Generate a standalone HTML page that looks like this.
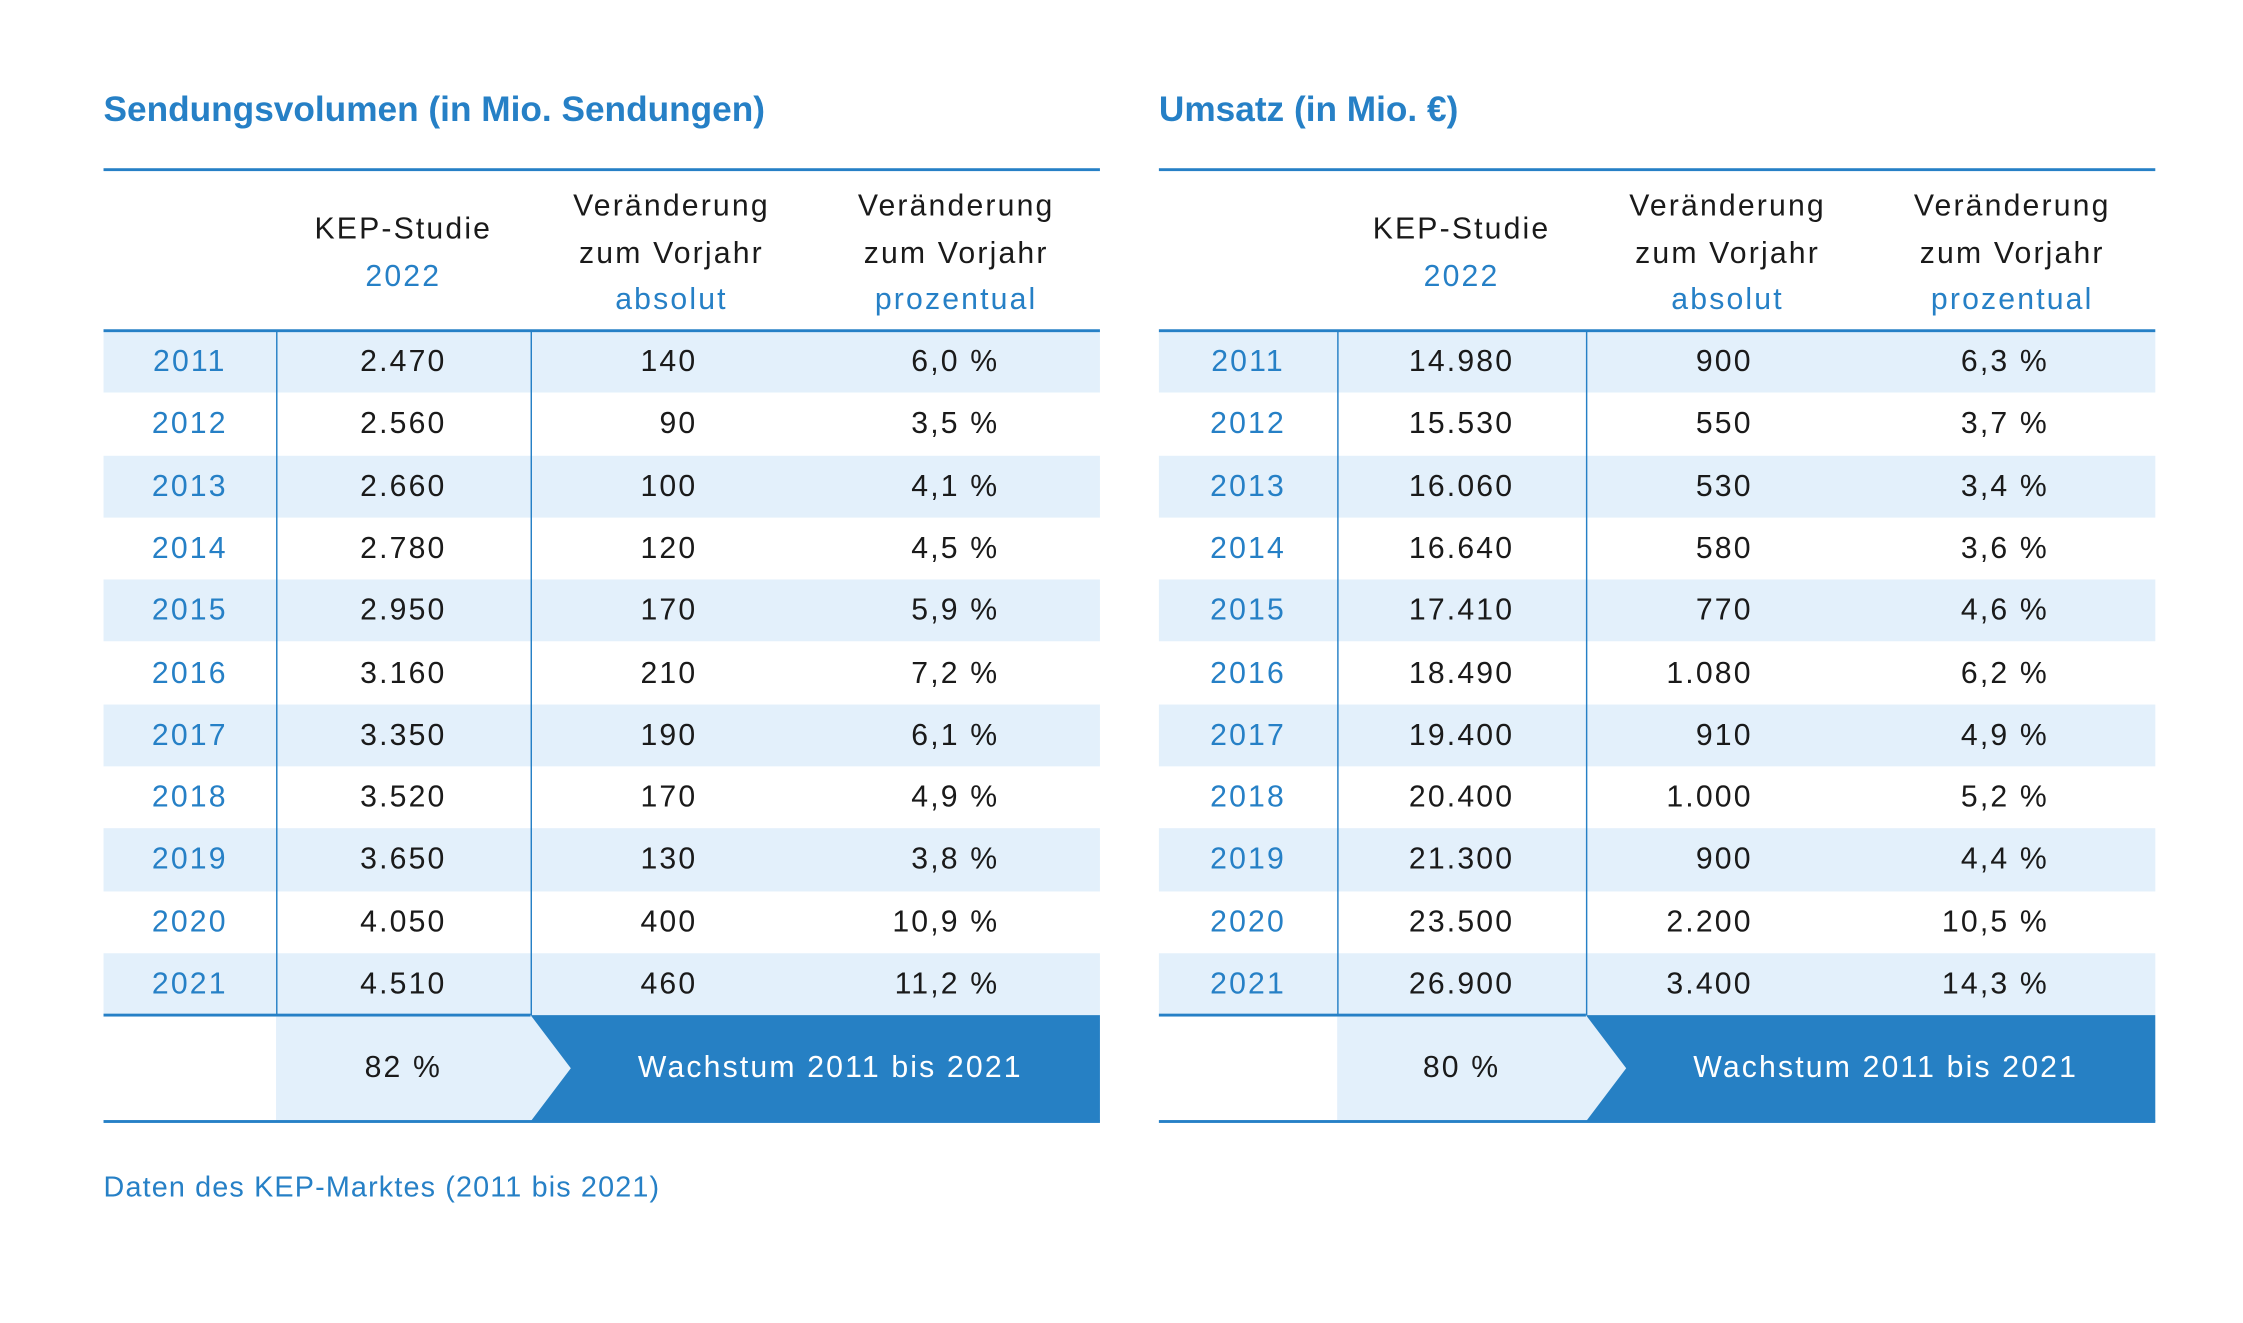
<!DOCTYPE html>
<html><head><meta charset="utf-8"><style>
*{margin:0;padding:0;box-sizing:border-box}
html,body{width:2243px;height:1322px;overflow:hidden;background:#fff}
#s{position:absolute;left:0;top:0;width:1560px;height:920px;transform:scale(1.43782);transform-origin:0 0;font-family:"Liberation Sans",sans-serif;color:#1a1a1a}
.t{position:absolute;font-weight:bold;font-size:24.5px;color:#2680c6;top:63px}
.ln{position:absolute;height:2px;background:#2680c6}
.h{position:absolute;top:128px;font-size:21px;letter-spacing:1.5px;line-height:32.5px;text-align:center}
.b{color:#2680c6}
.r{position:absolute;height:43.3px;line-height:43.3px;font-size:21px;letter-spacing:1.5px}
.r.s{background:#e3f0fb}
.r span{position:absolute;top:0}
.y{color:#2680c6;text-align:center}
.c{text-align:center}
.rt{text-align:right}
.v{position:absolute;width:1.5px;background:#2680c6;top:230px;height:476px}
.ft{position:absolute;left:72px;top:815px;font-size:20px;color:#2680c6;letter-spacing:0.8px}
.bt{position:absolute;font-size:21px;letter-spacing:1.5px;line-height:74px;top:706px;text-align:center}
</style></head><body><div id="s">

<div class="t" style="left:72px">Sendungsvolumen (in Mio. Sendungen)</div>
<div class="t" style="left:806px">Umsatz (in Mio. €)</div>

<div class="ln" style="left:72px;width:693px;top:117px;height:1.5px"></div>
<div class="ln" style="left:806px;width:693px;top:117px;height:1.5px"></div>

<div class="h" style="left:192px;width:177px;top:144px">KEP-Studie<br><span class="b">2022</span></div>
<div class="h" style="left:369px;width:196px">Veränderung<br>zum Vorjahr<br><span class="b">absolut</span></div>
<div class="h" style="left:565px;width:200px">Veränderung<br>zum Vorjahr<br><span class="b">prozentual</span></div>
<div class="h" style="left:930px;width:173px;top:144px">KEP-Studie<br><span class="b">2022</span></div>
<div class="h" style="left:1103px;width:197px">Veränderung<br>zum Vorjahr<br><span class="b">absolut</span></div>
<div class="h" style="left:1300px;width:199px">Veränderung<br>zum Vorjahr<br><span class="b">prozentual</span></div>

<div style="position:absolute;left:72px;top:230px;width:693px">
<div class="r s" style="top:0;width:693px"><span class="y" style="left:0;width:120px">2011</span><span class="c" style="left:120px;width:177px">2.470</span><span class="rt" style="left:297px;width:116px">140</span><span class="rt" style="left:493px;width:130px">6,0 %</span></div>
<div class="r" style="top:43.3px;width:693px"><span class="y" style="left:0;width:120px">2012</span><span class="c" style="left:120px;width:177px">2.560</span><span class="rt" style="left:297px;width:116px">90</span><span class="rt" style="left:493px;width:130px">3,5 %</span></div>
<div class="r s" style="top:86.6px;width:693px"><span class="y" style="left:0;width:120px">2013</span><span class="c" style="left:120px;width:177px">2.660</span><span class="rt" style="left:297px;width:116px">100</span><span class="rt" style="left:493px;width:130px">4,1 %</span></div>
<div class="r" style="top:129.9px;width:693px"><span class="y" style="left:0;width:120px">2014</span><span class="c" style="left:120px;width:177px">2.780</span><span class="rt" style="left:297px;width:116px">120</span><span class="rt" style="left:493px;width:130px">4,5 %</span></div>
<div class="r s" style="top:173.2px;width:693px"><span class="y" style="left:0;width:120px">2015</span><span class="c" style="left:120px;width:177px">2.950</span><span class="rt" style="left:297px;width:116px">170</span><span class="rt" style="left:493px;width:130px">5,9 %</span></div>
<div class="r" style="top:216.5px;width:693px"><span class="y" style="left:0;width:120px">2016</span><span class="c" style="left:120px;width:177px">3.160</span><span class="rt" style="left:297px;width:116px">210</span><span class="rt" style="left:493px;width:130px">7,2 %</span></div>
<div class="r s" style="top:259.8px;width:693px"><span class="y" style="left:0;width:120px">2017</span><span class="c" style="left:120px;width:177px">3.350</span><span class="rt" style="left:297px;width:116px">190</span><span class="rt" style="left:493px;width:130px">6,1 %</span></div>
<div class="r" style="top:303.1px;width:693px"><span class="y" style="left:0;width:120px">2018</span><span class="c" style="left:120px;width:177px">3.520</span><span class="rt" style="left:297px;width:116px">170</span><span class="rt" style="left:493px;width:130px">4,9 %</span></div>
<div class="r s" style="top:346.4px;width:693px"><span class="y" style="left:0;width:120px">2019</span><span class="c" style="left:120px;width:177px">3.650</span><span class="rt" style="left:297px;width:116px">130</span><span class="rt" style="left:493px;width:130px">3,8 %</span></div>
<div class="r" style="top:389.7px;width:693px"><span class="y" style="left:0;width:120px">2020</span><span class="c" style="left:120px;width:177px">4.050</span><span class="rt" style="left:297px;width:116px">400</span><span class="rt" style="left:493px;width:130px">10,9 %</span></div>
<div class="r s" style="top:433px;width:693px"><span class="y" style="left:0;width:120px">2021</span><span class="c" style="left:120px;width:177px">4.510</span><span class="rt" style="left:297px;width:116px">460</span><span class="rt" style="left:493px;width:130px">11,2 %</span></div>
</div>

<div style="position:absolute;left:806px;top:230px;width:693px">
<div class="r s" style="top:0;width:693px"><span class="y" style="left:0;width:124px">2011</span><span class="c" style="left:124px;width:173px">14.980</span><span class="rt" style="left:297px;width:116px">900</span><span class="rt" style="left:494px;width:125px">6,3 %</span></div>
<div class="r" style="top:43.3px;width:693px"><span class="y" style="left:0;width:124px">2012</span><span class="c" style="left:124px;width:173px">15.530</span><span class="rt" style="left:297px;width:116px">550</span><span class="rt" style="left:494px;width:125px">3,7 %</span></div>
<div class="r s" style="top:86.6px;width:693px"><span class="y" style="left:0;width:124px">2013</span><span class="c" style="left:124px;width:173px">16.060</span><span class="rt" style="left:297px;width:116px">530</span><span class="rt" style="left:494px;width:125px">3,4 %</span></div>
<div class="r" style="top:129.9px;width:693px"><span class="y" style="left:0;width:124px">2014</span><span class="c" style="left:124px;width:173px">16.640</span><span class="rt" style="left:297px;width:116px">580</span><span class="rt" style="left:494px;width:125px">3,6 %</span></div>
<div class="r s" style="top:173.2px;width:693px"><span class="y" style="left:0;width:124px">2015</span><span class="c" style="left:124px;width:173px">17.410</span><span class="rt" style="left:297px;width:116px">770</span><span class="rt" style="left:494px;width:125px">4,6 %</span></div>
<div class="r" style="top:216.5px;width:693px"><span class="y" style="left:0;width:124px">2016</span><span class="c" style="left:124px;width:173px">18.490</span><span class="rt" style="left:297px;width:116px">1.080</span><span class="rt" style="left:494px;width:125px">6,2 %</span></div>
<div class="r s" style="top:259.8px;width:693px"><span class="y" style="left:0;width:124px">2017</span><span class="c" style="left:124px;width:173px">19.400</span><span class="rt" style="left:297px;width:116px">910</span><span class="rt" style="left:494px;width:125px">4,9 %</span></div>
<div class="r" style="top:303.1px;width:693px"><span class="y" style="left:0;width:124px">2018</span><span class="c" style="left:124px;width:173px">20.400</span><span class="rt" style="left:297px;width:116px">1.000</span><span class="rt" style="left:494px;width:125px">5,2 %</span></div>
<div class="r s" style="top:346.4px;width:693px"><span class="y" style="left:0;width:124px">2019</span><span class="c" style="left:124px;width:173px">21.300</span><span class="rt" style="left:297px;width:116px">900</span><span class="rt" style="left:494px;width:125px">4,4 %</span></div>
<div class="r" style="top:389.7px;width:693px"><span class="y" style="left:0;width:124px">2020</span><span class="c" style="left:124px;width:173px">23.500</span><span class="rt" style="left:297px;width:116px">2.200</span><span class="rt" style="left:494px;width:125px">10,5 %</span></div>
<div class="r s" style="top:433px;width:693px"><span class="y" style="left:0;width:124px">2021</span><span class="c" style="left:124px;width:173px">26.900</span><span class="rt" style="left:297px;width:116px">3.400</span><span class="rt" style="left:494px;width:125px">14,3 %</span></div>
</div>

<div class="ln" style="left:72px;width:693px;top:229px"></div>
<div class="ln" style="left:806px;width:693px;top:229px"></div>
<div class="v" style="left:191.5px"></div>
<div class="v" style="left:368.5px"></div>
<div class="v" style="left:929.5px"></div>
<div class="v" style="left:1102.5px"></div>

<svg style="position:absolute;left:0;top:0" width="1560" height="920">
<polygon points="192,706 369,706 397,743 369,780 192,780" fill="#e3f0fb"/>
<polygon points="369,706 765,706 765,780 369,780 397,743" fill="#2680c4"/>
<polygon points="930,706 1103,706 1131,743 1103,780 930,780" fill="#e3f0fb"/>
<polygon points="1103,706 1499,706 1499,780 1103,780 1131,743" fill="#2680c4"/>
<rect x="72" y="705" width="297" height="2" fill="#2680c6"/>
<rect x="806" y="705" width="297" height="2" fill="#2680c6"/>
<rect x="72" y="779" width="693" height="2" fill="#2680c6"/>
<rect x="806" y="779" width="693" height="2" fill="#2680c6"/>
</svg>
<div class="bt" style="left:192px;width:177px">82 %</div>
<div class="bt" style="left:390px;width:375px;color:#fff">Wachstum 2011 bis 2021</div>
<div class="bt" style="left:930px;width:173px">80 %</div>
<div class="bt" style="left:1124px;width:375px;color:#fff">Wachstum 2011 bis 2021</div>

<div class="ft">Daten des KEP-Marktes (2011 bis 2021)</div>
</div></body></html>
